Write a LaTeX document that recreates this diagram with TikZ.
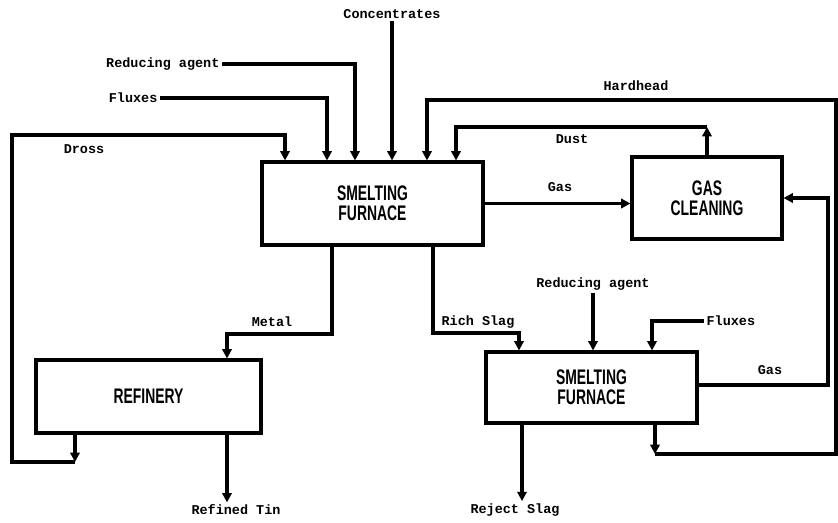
\documentclass[tikz,border=0pt]{standalone}
\usepackage{fontspec}
\newfontfamily\boxfont[FakeStretch=0.66]{Liberation Sans}
\newfontfamily\tagfont{Liberation Mono}
\usetikzlibrary{
  arrows.meta,
  positioning
}

\tikzset{
  unit/.style={draw, line width=2.6pt, inner sep=0pt, align=center,
    font=\boxfont\bfseries\fontsize{18}{17}\selectfont},
  flow/.style={line width=2.6pt, -{Triangle[length=8pt,width=8pt]}},
  tag/.style={inner sep=2pt, font=\tagfont\bfseries\fontsize{11.5}{13}\selectfont}
}

\begin{document}
\begin{tikzpicture}[x=0.03cm, y=-0.03cm]
    \useasboundingbox (0,0) rectangle (838,522);

    % Process units
    \node[unit, minimum width=6.63cm, minimum height=2.49cm] (sf1) at (372.5,203.5) {SMELTING\\FURNACE};
    \node[unit, minimum width=4.5cm, minimum height=2.46cm] (gc) at (707,198) {GAS\\CLEANING};
    \node[unit, minimum width=6.75cm, minimum height=2.19cm] (ref) at (148.5,396.5) {REFINERY};
    \node[unit, minimum width=6.33cm, minimum height=2.13cm] (sf2) at (591.5,387.5) {SMELTING\\FURNACE};

    % Feeds to the first furnace
    \node[tag] (conc) at (392,14) {Concentrates};
    \draw[flow] (conc.south) -- (sf1.north -| conc.south);
    \node[tag, anchor=east] (red1) at (222,64) {Reducing agent};
    \draw[flow] (red1.east) -| (sf1.north -| 355,0);
    \node[tag, anchor=east] (flx1) at (160,98) {Fluxes};
    \draw[flow] (flx1.east) -| (sf1.north -| 327,0);

    % Dross back from the refinery
    \coordinate (drossA) at (75,462);
    \coordinate (drossB) at (12,135);
    \draw[flow] (ref.south -| drossA) -- (drossA);
    \draw[flow] (drossA) -| (drossB) -| (sf1.north -| 285,0);
    \node[tag] (dross) at (84,149) {Dross};

    % Gas and dust
    \draw[flow] (sf1.east) -- (sf1.east -| gc.west);
    \node[tag] (gas1) at (560,187) {Gas};
    \coordinate (dustA) at (707,127);
    \draw[flow] (gc.north) -- (dustA);
    \draw[flow] (dustA) -| (sf1.north -| 456,0);
    \node[tag] (dust) at (572,139) {Dust};

    % Metal to the refinery
    \coordinate (metA) at (332,334);
    \draw[flow] (sf1.south -| metA) -- (metA) -| (ref.north -| 227,0);
    \node[tag] (metal) at (272,322) {Metal};

    % Rich slag to the second furnace
    \coordinate (slagA) at (433,333);
    \draw[flow] (sf1.south -| slagA) -- (slagA) -| (sf2.north -| 519,0);
    \node[tag] (rich) at (478,322) {Rich Slag};

    % Feeds to the second furnace
    \node[tag] (red2) at (593,284) {Reducing agent};
    \draw[flow] (red2.south) -- (sf2.north -| red2.south);
    \node[tag, anchor=west] (flx2) at (704,321) {Fluxes};
    \draw[flow] (flx2.west) -| (sf2.north -| 652,0);

    % Gas from the second furnace
    \coordinate (gasA) at (828,198);
    \draw[flow] (sf2.east |- 0,385) -| (gasA) -- (gc.east);
    \node[tag] (gas2) at (770,370) {Gas};

    % Hardhead back to the first furnace
    \coordinate (hardA) at (655,454);
    \coordinate (hardB) at (836,100);
    \draw[flow] (sf2.south -| hardA) -- (hardA);
    \draw[flow] (hardA) -| (hardB) -| (sf1.north -| 427,0);
    \node[tag] (hard) at (636,86) {Hardhead};

    % Products
    \node[tag] (tin) at (236,510) {Refined Tin};
    \draw[flow] (ref.south -| 227,0) -- (tin.north -| 227,0);
    \node[tag] (reject) at (515,510) {Reject Slag};
    \draw[flow] (sf2.south -| 522,0) -- (reject.north -| 522,0);
\end{tikzpicture}
\end{document}
